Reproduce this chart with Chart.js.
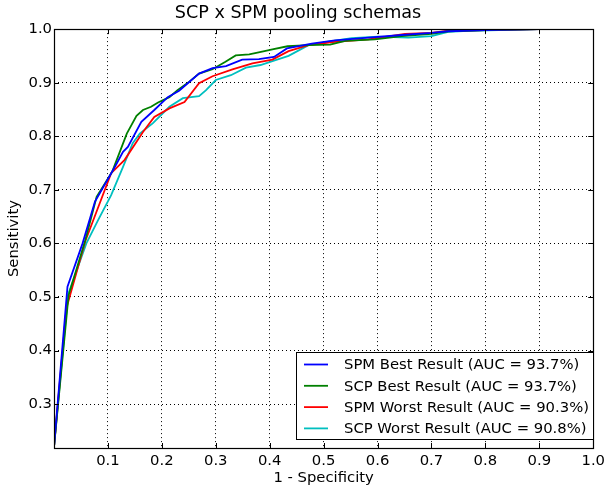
<!DOCTYPE html>
<html>
<head>
<meta charset="utf-8">
<title>SCP x SPM pooling schemas</title>
<script src="https://cdn.jsdelivr.net/npm/chart.js@4.4.1/dist/chart.umd.min.js"></script>
<style>
  body { margin: 0; background: #fff; }
  #roc { display: block; }
</style>
</head>
<body>
<canvas id="roc" width="609" height="487"></canvas>
<script>
// values
var xTicks = [0.1, 0.2, 0.3, 0.4, 0.5, 0.6, 0.7, 0.8, 0.9, 1.0];
var yTicks = [0.3, 0.4, 0.5, 0.6, 0.7, 0.8, 0.9, 1.0];

var spmBestX = [0, 0.025, 0.053, 0.076, 0.113, 0.128, 0.137, 0.162, 0.186, 0.211, 0.232, 0.269, 0.294, 0.319, 0.349, 0.380, 0.408, 0.432, 0.478, 0.521, 0.583, 0.645, 0.700, 0.731, 0.800, 0.900];
var spmBestY = [0.22, 0.519, 0.600, 0.678, 0.743, 0.771, 0.780, 0.827, 0.849, 0.873, 0.885, 0.917, 0.927, 0.931, 0.943, 0.944, 0.948, 0.964, 0.973, 0.979, 0.984, 0.989, 0.993, 0.996, 0.998, 1.0];

var scpBestX = [0, 0.027, 0.058, 0.079, 0.108, 0.135, 0.153, 0.165, 0.180, 0.193, 0.214, 0.229, 0.251, 0.269, 0.294, 0.318, 0.337, 0.362, 0.386, 0.405, 0.433, 0.472, 0.512, 0.540, 0.595, 0.645, 0.700, 0.731, 0.800, 0.897];
var scpBestY = [0.22, 0.503, 0.606, 0.687, 0.734, 0.805, 0.838, 0.849, 0.855, 0.863, 0.873, 0.886, 0.902, 0.917, 0.925, 0.939, 0.951, 0.953, 0.958, 0.962, 0.968, 0.970, 0.971, 0.978, 0.981, 0.987, 0.991, 0.996, 0.998, 1.0];

var spmWorstX = [0, 0.023, 0.058, 0.106, 0.131, 0.165, 0.186, 0.214, 0.242, 0.269, 0.294, 0.331, 0.368, 0.405, 0.435, 0.472, 0.521, 0.583, 0.651, 0.700, 0.731, 0.800, 0.900];
var spmWorstY = [0.22, 0.479, 0.604, 0.731, 0.756, 0.808, 0.836, 0.852, 0.864, 0.899, 0.912, 0.925, 0.936, 0.943, 0.959, 0.970, 0.976, 0.981, 0.991, 0.993, 0.997, 0.998, 1.0];

var scpWorstX = [0, 0.026, 0.060, 0.082, 0.106, 0.128, 0.146, 0.159, 0.183, 0.214, 0.239, 0.269, 0.282, 0.300, 0.328, 0.356, 0.383, 0.408, 0.435, 0.472, 0.506, 0.552, 0.601, 0.657, 0.700, 0.731, 0.768, 0.900];
var scpWorstY = [0.22, 0.504, 0.600, 0.644, 0.690, 0.743, 0.787, 0.805, 0.824, 0.855, 0.871, 0.875, 0.886, 0.905, 0.914, 0.928, 0.933, 0.941, 0.950, 0.970, 0.976, 0.983, 0.986, 0.984, 0.987, 0.995, 0.997, 1.0];

var labels = ["SPM Best Result (AUC = 93.7%)", "SCP Best Result (AUC = 93.7%)", "SPM Worst Result (AUC = 90.3%)", "SCP Worst Result (AUC = 90.8%)"];
var colors = ["#0000ff", "#008000", "#ff0000", "#00bfbf"];

function toPoints(xs, ys) {
	let pts = [];
	for (let i = 0; i < xs.length; i++) {
		pts.push({ x: xs[i], y: ys[i] });
	}
	return pts;
}

Chart.defaults.font.family = "'DejaVu Sans', sans-serif";
Chart.defaults.font.size = 14.8;
Chart.defaults.color = "#000";

// box round the plot with inward ticks, like matplotlib
var frame = {
	id: 'frame',
	afterDraw(chart) {
		const c = chart.ctx, a = chart.chartArea;
		const xs = chart.scales.x, ys = chart.scales.y;
		c.save();
		c.strokeStyle = "#000";
		c.lineWidth = 1;
		c.beginPath();
		for (let v of xTicks) {
			let px = Math.round(xs.getPixelForValue(v)) + 0.5;
			c.moveTo(px, a.bottom); c.lineTo(px, a.bottom - 5);
			c.moveTo(px, a.top); c.lineTo(px, a.top + 5);
		}
		for (let v of yTicks) {
			let py = Math.round(ys.getPixelForValue(v)) + 0.5;
			c.moveTo(a.left, py); c.lineTo(a.left + 5, py);
			c.moveTo(a.right, py); c.lineTo(a.right - 5, py);
		}
		c.stroke();
		c.lineWidth = 1.2;
		c.strokeRect(Math.round(a.left) + 0.5, Math.round(a.top) + 0.5, Math.round(a.right - a.left), Math.round(a.bottom - a.top));
		c.restore();
	}
};

// legend box in the lower right corner of the plot
var boxLegend = {
	id: 'boxLegend',
	afterDraw(chart) {
		const c = chart.ctx, a = chart.chartArea;
		const sets = chart.data.datasets;
		c.save();
		c.font = "14.8px 'DejaVu Sans', sans-serif";
		let tw = 0;
		for (let ds of sets) tw = Math.max(tw, c.measureText(ds.label).width);
		const w = 8 + 24 + 16 + tw + 4;
		const h = 87;
		const right = Math.round(a.right);
		const left = right - Math.round(w);
		const top = Math.round(a.bottom) - 9 - h;
		c.fillStyle = "#fff";
		c.fillRect(left, top, right - left, h);
		c.strokeStyle = "#000";
		c.lineWidth = 1;
		c.strokeRect(left + 0.5, top + 0.5, right - left, h);
		c.textBaseline = "middle";
		c.textAlign = "left";
		for (let i = 0; i < sets.length; i++) {
			let y = top + 12.5 + i * 21.3;
			c.strokeStyle = sets[i].borderColor;
			c.lineWidth = 1.8;
			c.beginPath();
			c.moveTo(left + 8, y);
			c.lineTo(left + 32, y);
			c.stroke();
			c.fillStyle = "#000";
			c.fillText(sets[i].label, left + 48, y + 1);
		}
		c.restore();
	}
};

var series = [
	toPoints(spmBestX, spmBestY),
	toPoints(scpBestX, scpBestY),
	toPoints(spmWorstX, spmWorstY),
	toPoints(scpWorstX, scpWorstY)
];

var datasets = [];
for (let i = 0; i < series.length; i++) {
	datasets.push({
		label: labels[i],
		data: series[i],
		borderColor: colors[i],
		backgroundColor: colors[i],
		borderWidth: 1.8,
		showLine: true,
		pointRadius: 0,
		tension: 0,
		fill: false
	});
}

var ctx = document.getElementById('roc').getContext('2d');
var rocChart = new Chart(ctx, {
	type: 'scatter',
	data: { datasets: datasets },
	options: {
		responsive: false,
		animation: false,
		layout: { padding: { left: 0, right: 13, top: 0, bottom: 0 } },
		plugins: {
			legend: { display: false },
			tooltip: { enabled: false },
			title: {
				display: true,
				text: "SCP x SPM pooling schemas",
				font: { size: 17.6, weight: 'normal' },
				padding: { top: 3, bottom: 5 }
			}
		},
		scales: {
			x: {
				type: 'linear',
				min: 0,
				max: 1,
				afterBuildTicks: function (axis) {
					axis.ticks = xTicks.map(v => ({ value: v }));
				},
				afterFit: function (axis) { axis.height = 39; },
				ticks: {
					padding: 4,
					maxRotation: 0,
					callback: v => v.toFixed(1)
				},
				grid: { color: "#000", lineWidth: 1, drawTicks: false },
				border: { display: false, dash: [1, 3] },
				title: { display: true, text: "1 - Specificity", padding: { top: 0, bottom: 0 } }
			},
			y: {
				type: 'linear',
				min: 0.218,
				max: 1,
				afterBuildTicks: function (axis) {
					axis.ticks = yTicks.map(v => ({ value: v }));
				},
				afterFit: function (axis) { axis.width = 54; },
				ticks: {
					padding: 2,
					callback: v => v.toFixed(1)
				},
				grid: { color: "#000", lineWidth: 1, drawTicks: false },
				border: { display: false, dash: [1, 3] },
				title: { display: true, text: "Sensitivity", padding: { top: 5, bottom: 0 } }
			}
		}
	},
	plugins: [frame, boxLegend]
});
</script>
</body>
</html>
